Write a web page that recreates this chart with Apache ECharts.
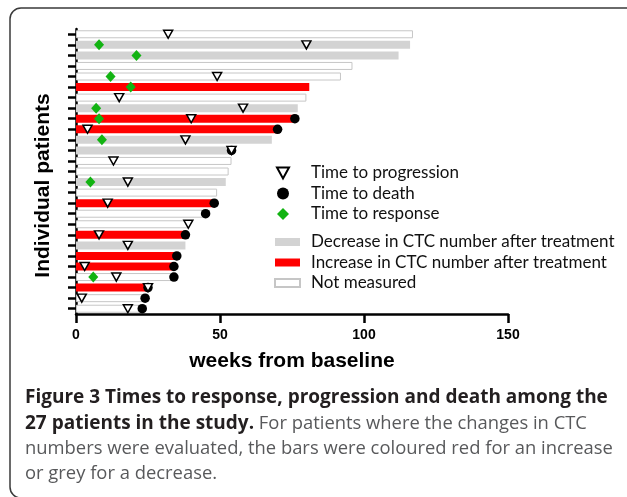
<!DOCTYPE html>
<html><head><meta charset="utf-8">
<script src="https://cdn.jsdelivr.net/npm/echarts@6/dist/echarts.min.js"></script>
<style>html,body{margin:0;padding:0;background:#fff}#c{width:627px;height:497px}</style>
</head><body><div id="c"></div>
<script>
// one row per patient, top to bottom
const patients = ['P1','P2','P3','P4','P5','P6','P7','P8','P9','P10','P11','P12','P13','P14','P15','P16','P17','P18','P19','P20','P21','P22','P23','P24','P25','P26','P27'];
// N = not measured, D = decrease in CTC, I = increase in CTC
const ctcChange = ['N','D','D','N','N','I','N','D','I','I','D','D','N','N','D','N','I','N','N','I','D','I','I','N','I','N','N'];
const followUp = [117,116,112,96,92,81,80,77,76,70,68,54,54,53,52,49,48,45,39,38,38,35,34,34,25,24,23];
const progression = [32,80,null,null,49,null,15,58,40,4,38,54,13,null,18,null,11,null,39,8,18,null,3,14,25,2,18];
const death = [null,null,null,null,null,null,null,null,76,70,null,54,null,null,null,null,48,45,null,38,null,35,34,34,25,24,23];
const response = [null,8,21,null,12,19,null,7,8,null,9,null,null,null,5,null,null,null,null,null,null,null,null,6,null,null,null];
const xTicks = [0, 50, 100, 150];

const barFor = code => followUp.map((v, i) => ctcChange[i] === code ? v : '-');
const pts = arr => arr.map((v, i) => v == null ? null : [v, patients[i]]).filter(Boolean);

const chart = echarts.init(document.getElementById('c'), null, {renderer: 'canvas'});
const capFont = '"Open Sans", sans-serif';
chart.setOption({
  backgroundColor: '#fff',
  animation: false,
  grid: {left: 76, right: 119, top: 29, bottom: 183, containLabel: false},
  xAxis: {
    type: 'value', min: xTicks[0], max: xTicks[xTicks.length - 1], interval: 50,
    name: 'weeks from baseline', nameLocation: 'middle', nameGap: 37,
    nameTextStyle: {fontFamily: '"Liberation Sans", Arial, sans-serif', fontWeight: 'bold', fontSize: 21, color: '#000'},
    axisLine: {show: true, lineStyle: {color: '#000', width: 2.5}},
    axisTick: {show: true, length: 9, lineStyle: {color: '#000', width: 2.5}},
    axisLabel: {margin: 14, fontFamily: '"Liberation Sans", Arial, sans-serif', fontWeight: 'bold', fontSize: 14, color: '#000'},
    splitLine: {show: false}
  },
  yAxis: {
    type: 'category', data: patients, inverse: true,
    name: 'Individual patients', nameLocation: 'middle', nameRotate: 90, nameGap: 22,
    nameTextStyle: {fontFamily: '"Liberation Sans", Arial, sans-serif', fontWeight: 'bold', fontSize: 21, color: '#000', padding: [0, 28, 0, 0]},
    axisLine: {show: true, lineStyle: {color: '#000', width: 2.5}},
    axisTick: {show: true, alignWithLabel: true, interval: 0, length: 8, lineStyle: {color: '#000', width: 2.5}},
    axisLabel: {show: false},
    splitLine: {show: false}
  },
  legend: [{
    orient: 'vertical', left: 276, top: 163, padding: 0, itemGap: 0.5,
    itemWidth: 12, itemHeight: 12,
    data: ['Time to progression', 'Time to death', 'Time to response'],
    textStyle: {fontFamily: 'Lato, sans-serif', fontSize: 17, color: '#111', lineHeight: 20, padding: [0, 0, 0, 17]}
  }, {
    orient: 'vertical', left: 274, top: 232, padding: 0, itemGap: 0.5,
    itemWidth: 25, itemHeight: 8, icon: 'rect',
    data: ['Decrease in CTC number after treatment', 'Increase in CTC number after treatment', 'Not measured'],
    textStyle: {fontFamily: 'Lato, sans-serif', fontSize: 17, color: '#111', lineHeight: 20, padding: [0, 0, 0, 6]}
  }],
  series: [
    {name: 'Decrease in CTC number after treatment', type: 'bar', stack: 'ctc', barWidth: 8, data: barFor('D'),
     itemStyle: {color: '#d3d3d3'}},
    {name: 'Increase in CTC number after treatment', type: 'bar', stack: 'ctc', barWidth: 8, data: barFor('I'),
     itemStyle: {color: '#ff0000'}},
    {name: 'Not measured', type: 'bar', stack: 'ctc', barWidth: 8, data: barFor('N'),
     itemStyle: {color: '#ffffff', borderColor: '#c6c6c6', borderWidth: 1}},
    {name: 'Time to response', type: 'scatter', symbol: 'diamond', symbolSize: [10, 11], data: pts(response),
     itemStyle: {color: '#12b312', opacity: 1}, z: 4},
    {name: 'Time to death', type: 'scatter', symbol: 'circle', symbolSize: 9.5, data: pts(death),
     itemStyle: {color: '#000', opacity: 1}, z: 5},
    {name: 'Time to progression', type: 'scatter', symbol: 'path://M0,0L10,0L5,9Z', symbolSize: [9, 8], data: pts(progression),
     itemStyle: {color: '#fff', borderColor: '#000', borderWidth: 1.5, opacity: 1}, z: 6}
  ],
  graphic: [
    {type: 'rect', shape: {x: 10, y: 8, width: 660, height: 490, r: 11}, style: {fill: 'none', stroke: '#3a3a3a', lineWidth: 1.5}, silent: true},
    {type: 'text', x: 25, y: 398, style: {text: 'Figure 3 Times to response, progression and death among the', font: 'bold 19px ' + capFont, fill: '#231f20', verticalAlign: 'middle'}},
    {type: 'text', x: 25, y: 423.5, style: {
      text: '{b|27 patients in the study.}{r| For patients where the changes in CTC}', verticalAlign: 'middle',
      rich: {b: {fontFamily: capFont, fontWeight: 'bold', fontSize: 19, fill: '#231f20'}, r: {fontFamily: capFont, fontSize: 18.4, fill: '#58595b'}}}},
    {type: 'text', x: 25, y: 449, style: {text: 'numbers were evaluated, the bars were coloured red for an increase', font: '18.4px ' + capFont, fill: '#58595b', verticalAlign: 'middle'}},
    {type: 'text', x: 25, y: 474, style: {text: 'or grey for a decrease.', font: '18.4px ' + capFont, fill: '#58595b', verticalAlign: 'middle'}}
  ]
});
</script>
</body></html>
